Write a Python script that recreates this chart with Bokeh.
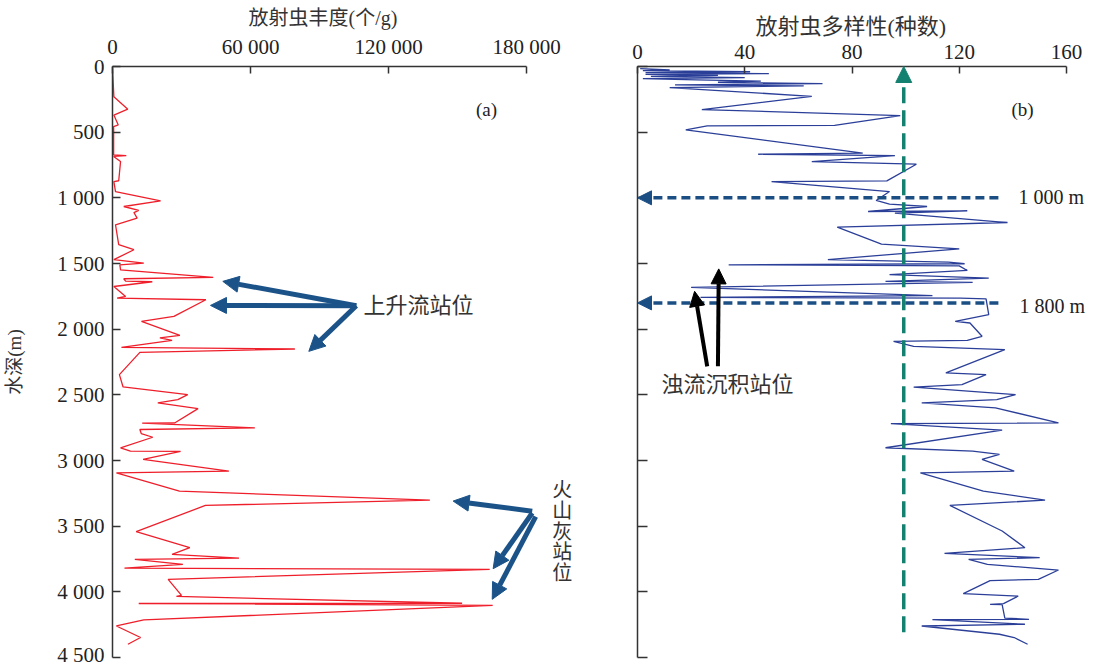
from bokeh.plotting import figure
from bokeh.layouts import row
from bokeh.models import Range1d, FixedTicker, Label, Arrow, NormalHead, Title
from bokeh.embed import file_html
from bokeh.resources import INLINE

# ---------------- data ----------------
# (a) radiolarian abundance (个/g) vs water depth (m)
abund_depth = [14, 230, 325, 370, 445, 457, 673, 678, 685, 724,
               870, 876, 952, 1023, 1066, 1096, 1112, 1155, 1205, 1357,
               1395, 1471, 1497, 1510, 1548, 1606, 1616, 1634, 1639, 1675,
               1751, 1763, 1776, 1903, 1941, 2047, 2067, 2085, 2138, 2151,
               2177, 2346, 2440, 2498, 2536, 2561, 2605, 2714, 2716, 2752,
               2764, 2795, 2823, 2903, 2929, 2931, 2992, 3081, 3094, 3233,
               3302, 3342, 3542, 3664, 3715, 3743, 3753, 3791, 3819, 3829,
               3905, 4027, 4035, 4087, 4089, 4103, 4214, 4260, 4348, 4399]
abund_value = [0, 600, 6650, 600, 2500, 500, 500, 6000, 500, 3500,
               2700, 600, 1300, 20900, 4900, 11400, 9300, 10700, 1300, 2700,
               9300, 600, 13600, 3200, 3500, 43800, 4900, 5700, 17300, 600,
               5700, 2000, 40600, 26700, 12600, 29300, 20600, 25900, 3900, 79300,
               11900, 3000, 4600, 32700, 28400, 19700, 37200, 27000, 12900, 61900,
               11900, 12500, 17500, 3500, 7800, 29600, 13300, 50600, 1700, 29100,
               138000, 40400, 10300, 33600, 25900, 55000, 9700, 30600, 5200, 164000,
               24200, 30000, 27800, 152000, 11400, 165300, 13600, 1700, 12200, 6700]

# (b) radiolarian diversity (species number) vs water depth (m)
div_depth = [16, 25, 32, 40, 46, 54, 60, 68, 75, 85,
             93, 102, 112, 120, 131, 140, 148, 161, 227, 328,
             374, 448, 452, 483, 660, 668, 678, 724, 744, 871,
             876, 952, 1020, 1048, 1066, 1104, 1099, 1116, 1188, 1223,
             1352, 1388, 1471, 1490, 1502, 1510, 1518, 1553, 1585, 1611,
             1636, 1644, 1682, 1745, 1758, 1763, 1770, 1890, 1941, 1953,
             2054, 2085, 2093, 2131, 2156, 2333, 2346, 2422, 2442, 2498,
             2536, 2561, 2599, 2714, 2719, 2769, 2903, 2929, 2954, 2992,
             3081, 3094, 3233, 3302, 3342, 3537, 3664, 3707, 3740, 3753,
             3791, 3834, 3905, 3915, 4014, 4032, 4090, 4095, 4098, 4200,
             4209, 4212, 4247, 4260, 4323, 4348, 4399]
div_value = [1, 12, 2, 42, 3, 49, 3, 30, 5, 40,
             2, 22, 46, 30, 69, 14, 62, 12, 65, 24,
             98, 73.5, 26, 18, 84, 45, 96, 65, 104, 93,
             50, 94, 89, 94, 108, 86, 123, 96, 138, 74.5,
             91, 120, 71, 116, 122, 34, 120, 123, 94, 131,
             92.5, 125, 20, 110, 23.5, 120.5, 130, 131, 118.5, 124,
             128.5, 123, 95.5, 103, 137, 115, 130, 121, 103, 141,
             134, 106, 133.5, 157, 94.5, 136, 92.5, 125, 135, 128.5,
             140.5, 105.5, 129, 152, 116.5, 136, 144.5, 114.5, 150, 123.5,
             130.5, 157, 149.5, 131.5, 121.5, 142, 136.5, 131.5, 136, 137,
             146, 110, 144.5, 106, 135, 140.5, 145.5]

depth_ticks = [0, 500, 1000, 1500, 2000, 2500, 3000, 3500, 4000, 4500]
depth_labels = ["0", "500", "1 000", "1 500", "2 000", "2 500", "3 000", "3 500", "4 000", "4 500"]
abund_ticks = [0, 60000, 120000, 180000]
abund_labels = ["0", "60 000", "120 000", "180 000"]
div_ticks = [0, 40, 80, 120, 160]
div_labels = ["0", "40", "80", "120", "160"]

# ---------------- styles ----------------
SERIF = "Liberation Serif"
MIX = "Liberation Serif, Noto Sans CJK SC"
CJK = "Noto Sans CJK SC"
RED = "#ee1f2b"
BLUE = "#2b3f99"
ARROW_BLUE = "#1b5389"
TEAL = "#14806f"
DASH_BLUE = "#1b4f84"
AX = "#333333"
TXT = "#222222"
CTXT = "#333333"

H = 666


def style(p, tick_in_y):
    p.grid.visible = False
    p.outline_line_color = None
    p.background_fill_color = "white"
    p.border_fill_color = "white"
    for ax in p.axis:
        ax.axis_line_color = AX
        ax.axis_line_width = 1.5
        ax.major_tick_line_color = AX
        ax.major_tick_line_width = 1.5
        ax.major_tick_out = 0
        ax.minor_tick_line_color = None
        ax.major_label_text_font = SERIF
        ax.major_label_text_font_size = "21px"
        ax.major_label_text_color = TXT
        ax.major_label_standoff = 8
        ax.axis_label_text_font = MIX
        ax.axis_label_text_font_style = "normal"
        ax.axis_label_text_color = CTXT
    p.xaxis.major_tick_in = 7
    p.yaxis.major_tick_in = tick_in_y


# ---------------- panel (a) ----------------
p1 = figure(width=600, height=H, output_backend="svg", toolbar_location=None,
            x_axis_location="above", title=None,
            x_range=Range1d(0, 207826), y_range=Range1d(4500, 0),
            min_border_left=112, min_border_right=10, min_border_top=66, min_border_bottom=9)
style(p1, 8)
p1.xaxis.bounds = (0, 180000)
p1.yaxis.bounds = (0, 4500)
p1.xaxis.ticker = FixedTicker(ticks=abund_ticks)
p1.xaxis.major_label_overrides = dict(zip(abund_ticks, abund_labels))
p1.yaxis.ticker = FixedTicker(ticks=depth_ticks)
p1.yaxis.major_label_overrides = dict(zip(depth_ticks, depth_labels))
p1.yaxis.axis_label = "水深(m)"
p1.yaxis.axis_label_text_font_size = "19px"
p1.yaxis.axis_label_standoff = 29
p1.add_layout(Title(text="放射虫丰度(个/g)", align="left", offset=136, standoff=6,
                    text_font=MIX, text_font_size="20px", text_font_style="normal",
                    text_color=CTXT), "above")

p1.line(abund_value, abund_depth, line_color=RED, line_width=1.3)

p1.add_layout(Label(x=162600, y=331, text="(a)", text_font=SERIF, text_font_size="19px",
                    text_color=TXT, text_align="center", text_baseline="middle"))
p1.add_layout(Label(x=109100, y=1800, text="上升流站位", text_font=CJK, text_font_size="22px",
                    text_color=CTXT, text_align="left", text_baseline="middle"))
p1.add_layout(Label(x=195500, y=3530, text="火\n山\n灰\n站\n位", text_font=CJK, text_font_size="20px",
                    text_color=CTXT, text_align="center", text_baseline="middle", text_line_height=0.72))

for xs, ys, xe, ye in [(106000, 1822, 47960, 1636), (106000, 1822, 42600, 1819),
                       (106000, 1822, 85360, 2169),
                       (182500, 3386, 148100, 3309), (182500, 3400, 165500, 3824),
                       (184000, 3428, 165100, 4057)]:
    p1.add_layout(Arrow(x_start=xs, y_start=ys, x_end=xe, y_end=ye,
                        line_color=ARROW_BLUE, line_width=5,
                        end=NormalHead(size=16, fill_color=ARROW_BLUE, line_color=ARROW_BLUE, line_width=1)))

# ---------------- panel (b) ----------------
p2 = figure(width=500, height=H, output_backend="svg", toolbar_location=None,
            x_axis_location="above", title=None,
            x_range=Range1d(0, 172.68), y_range=Range1d(4500, 0),
            min_border_left=37, min_border_right=0, min_border_top=66, min_border_bottom=9)
style(p2, 10)
p2.xaxis.bounds = (0, 160)
p2.yaxis.bounds = (0, 4500)
p2.xaxis.ticker = FixedTicker(ticks=div_ticks)
p2.xaxis.major_label_overrides = dict(zip(div_ticks, div_labels))
p2.yaxis.ticker = FixedTicker(ticks=depth_ticks)
p2.yaxis.major_label_overrides = {t: "" for t in depth_ticks}
p2.yaxis.major_label_standoff = 0
p2.add_layout(Title(text="放射虫多样性(种数)", align="left", offset=118, standoff=6,
                    text_font=MIX, text_font_size="22px", text_font_style="normal",
                    text_color=CTXT), "above")

p2.line(div_value, div_depth, line_color=BLUE, line_width=1.3)

# reference lines with arrows
p2.add_layout(Arrow(x_start=99.3, y_start=4308, x_end=99.3, y_end=0,
                    line_color=TEAL, line_width=3.5, line_dash="16 7",
                    end=NormalHead(size=16, fill_color=TEAL, line_color=TEAL, line_width=1)))
for yv in (1000, 1800):
    p2.add_layout(Arrow(x_start=134.6, y_start=yv, x_end=0, y_end=yv,
                        line_color=DASH_BLUE, line_width=3.5, line_dash="9 5",
                        end=NormalHead(size=14, fill_color=DASH_BLUE, line_color=DASH_BLUE, line_width=1)))
p2.add_layout(Label(x=142.1, y=995, text="1 000 m", text_font=SERIF, text_font_size="20px",
                    text_color=TXT, text_align="left", text_baseline="middle"))
p2.add_layout(Label(x=142.5, y=1825, text="1 800 m", text_font=SERIF, text_font_size="20px",
                    text_color=TXT, text_align="left", text_baseline="middle"))
p2.add_layout(Label(x=143.6, y=331, text="(b)", text_font=SERIF, text_font_size="19px",
                    text_color=TXT, text_align="center", text_baseline="middle"))

# turbidite arrows
for xs, ys, xe, ye in [(26.0, 2283, 21.3, 1712), (30.0, 2283, 30.3, 1541)]:
    p2.add_layout(Arrow(x_start=xs, y_start=ys, x_end=xe, y_end=ye,
                        line_color="black", line_width=4,
                        end=NormalHead(size=15, fill_color="black", line_color="black", line_width=1)))
p2.add_layout(Label(x=33.6, y=2399, text="浊流沉积站位", text_font=CJK, text_font_size="22px",
                    text_color=CTXT, text_align="center", text_baseline="middle"))

layout = row(p1, p2)
open("out.html", "w").write(file_html(layout, INLINE))
